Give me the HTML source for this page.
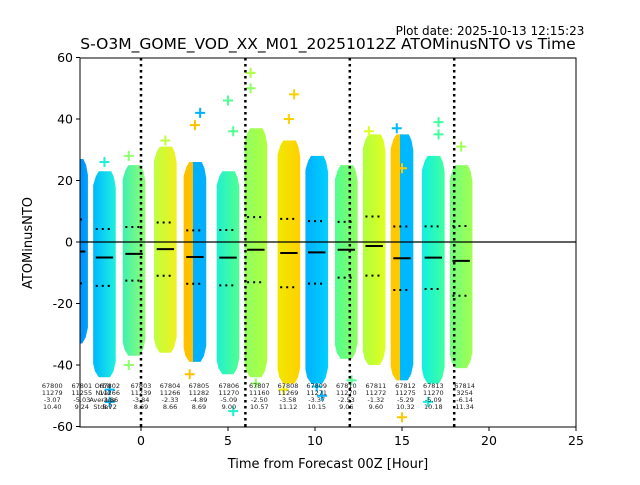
<!DOCTYPE html>
<html><head><meta charset="utf-8"><style>
body{margin:0;background:#fff;}
svg text{font-family:"DejaVu Sans","Liberation Sans",sans-serif;}
</style></head><body>
<svg id="chart" width="640" height="480" viewBox="0 0 640 480" xmlns="http://www.w3.org/2000/svg">
<text x="490" y="35" font-size="12" text-anchor="middle">Plot date: 2025-10-13 12:15:23</text>
<text x="328" y="49" font-size="15.5" text-anchor="middle">S-O3M_GOME_VOD_XX_M01_20251012Z ATOMinusNTO vs Time</text>
<defs><clipPath id="pc"><rect x="80" y="58" width="496" height="369"/></clipPath></defs>
<g id="plot" clip-path="url(#pc)"></g>
<g id="axes"></g>
<text x="328" y="468" font-size="13" text-anchor="middle">Time from Forecast 00Z [Hour]</text>
<text x="32" y="243" font-size="13" text-anchor="middle" transform="rotate(-90 32 243)">ATOMinusNTO</text>
</svg>
<script>
const colX=[-3.7,-2.1,-0.4,1.4,3.1,5.0,6.6,8.5,10.1,11.8,13.4,15.0,16.8,18.4];
const colMean=[-3.07,-5.03,-3.86,-2.33,-4.89,-5.09,-2.50,-3.58,-3.37,-2.53,-1.32,-5.29,-5.09,-6.14];
const colStd=[10.40,9.24,8.72,8.66,8.69,9.00,10.57,11.12,10.15,9.06,9.60,10.32,10.18,11.34];
const colTop=[27,23,25,31,26,23,37,33,28,25,35,35,28,25];
const colBot=[-33,-44,-37,-36,-39,-43,-44,-46,-46,-38,-40,-45,-46,-41];
const colC1=["#0070ff","#00b8ff","#40f0b0","#c0ff40","#ffc000","#20f0d0","#90ff60","#f0e800","#00b0ff","#50ff90","#b0ff40","#ffc800","#10f0e0","#70ff80"];
const colC2=["#00a0ff","#20f0e0","#90ff70","#f0f020","#00b0ff","#50ff90","#b0ff40","#ffd000","#00d0ff","#90ff60","#e0ff20","#00b8ff","#40ffa0","#a0ff50"];
const colSplit=[0,0,0,0,1,0,0,0,0,0,0,1,0,0];
const outCol=[0,1,1,2,3,4,4,5,5,6,6,7,7,8,9,11,11,12,12,13,1,2,4,5,6,7,8,10,11,12];
const outVal=[-40,26,-48,28,33,42,-43,46,-55,55,-46,48,-48,-47,-45,37,-57,39,-52,31,-52,-40,38,36,50,40,-50,36,24,35];
const dashX=[0,6,12,18];
const orbits=["67800","67801","67802","67803","67804","67805","67806","67807","67808","67809","67810","67811","67812","67813","67814"];
const labX=[-5.1,-3.4,-1.8,0,1.67,3.33,5.05,6.8,8.45,10.1,11.8,13.5,15.2,16.8,18.6];
const nval=["11279","11255","11266","11239","11266","11282","11270","11160","11269","11271","11270","11272","11275","11270","3254"];
const avg=["-3.07","-5.03","-3.86","-3.84","-2.33","-4.89","-5.09","-2.50","-3.58","-3.37","-2.53","-1.32","-5.29","-5.09","-6.14"];
const sdev=["10.40","9.24","8.72","8.69","8.66","8.69","9.00","10.57","11.12","10.15","9.06","9.60","10.32","10.18","11.34"];
const xTicks=[0,5,10,15,20,25];
const yTicks=[-60,-40,-20,0,20,40,60];
const NS="http://www.w3.org/2000/svg";
const X=v=>141+v*17.4, Y=v=>242-v*3.075;
function mk(t,a,p){const e=document.createElementNS(NS,t);for(const k in a)e.setAttribute(k,a[k]);p.appendChild(e);return e;}
const plot=document.getElementById('plot'),axes=document.getElementById('axes'),svg=document.getElementById('chart');
const defs=mk('defs',{},svg);
colX.forEach((c,i)=>{
  const g=mk('linearGradient',{id:'g'+i,x1:0,x2:1,y1:0,y2:0},defs);
  if(colSplit[i]){
    mk('stop',{offset:'0','stop-color':colC1[i]},g);mk('stop',{offset:'0.42','stop-color':colC1[i]},g);
    mk('stop',{offset:'0.42','stop-color':colC2[i]},g);mk('stop',{offset:'1','stop-color':colC2[i]},g);
  } else {mk('stop',{offset:'0','stop-color':colC1[i]},g);mk('stop',{offset:'1','stop-color':colC2[i]},g);}
  const l=X(c-0.65),r=X(c+0.65),w=r-l,t=Y(colTop[i]),b=Y(colBot[i]);
  const d=`M${l} ${t+14}L${l+w*0.12} ${t+5}L${l+w*0.25} ${t}L${r-w*0.2} ${t}L${r-w*0.08} ${t+6}L${r} ${t+16}L${r} ${b-16}L${r-w*0.1} ${b-6}L${r-w*0.25} ${b}L${l+w*0.25} ${b}L${l+w*0.08} ${b-6}L${l} ${b-14}Z`;
  const p=mk('path',{d:d,fill:'url(#g'+i+')'},plot);
  
  
});
outVal.forEach((v,k)=>{
  const i=outCol[k],cx=X(colX[i]+((k%3)-1)*0.3),cy=Y(v);
  const p=mk('path',{d:`M${cx-5} ${cy}H${cx+5}M${cx} ${cy-5}V${cy+5}`,stroke:k%2?colC2[i]:colC1[i],'stroke-width':2},plot);
  
  
});
colX.forEach((c,i)=>{
  const m=mk('line',{x1:X(c-0.5),x2:X(c+0.5),y1:Y(colMean[i]),y2:Y(colMean[i]),stroke:'#000','stroke-width':2},plot);
  
  
  [1,-1].forEach(s=>{
    const d=mk('line',{x1:X(c-0.5),x2:X(c+0.5),y1:Y(colMean[i]+s*colStd[i]),y2:Y(colMean[i]+s*colStd[i]),stroke:'#000','stroke-width':2,'stroke-dasharray':'2 4'},plot);
    
    
  });
});
const z=mk('line',{x1:80,x2:576,y1:Y(0),y2:Y(0),stroke:'#000','stroke-width':1.2},plot);


dashX.forEach(v=>{
  const l=mk('line',{x1:X(v),x2:X(v),y1:58,y2:427,stroke:'#000','stroke-width':2.5,'stroke-dasharray':'2.5 3.5'},plot);
  
  
});
const rows=[orbits,nval,avg,sdev],rowY=[388,395,402,409];
const hdr=["Orbit","Nval","Average","Stdev"];
hdr.forEach((h,r)=>{const t=mk('text',{x:X(-2.2),y:rowY[r],'font-size':6.5,'text-anchor':'middle',fill:'#222'},svg);t.textContent=h;
  
  });
labX.forEach((lx,i)=>rows.forEach((arr,r)=>{
  const t=mk('text',{x:X(lx),y:rowY[r],'font-size':6.5,'text-anchor':'middle',fill:'#222'},svg);t.textContent=arr[i];
  
  
}));
const fr=mk('rect',{x:80,y:58,width:496,height:369,fill:'none',stroke:'#000','stroke-width':1},axes);


xTicks.forEach(v=>{
  mk('line',{x1:X(v),x2:X(v),y1:427,y2:431,stroke:'#000'},axes);
  const t=mk('text',{x:X(v),y:445,'font-size':12.5,'text-anchor':'middle'},axes);t.textContent=v;
  
  
});
yTicks.forEach(v=>{
  mk('line',{x1:76,x2:80,y1:Y(v),y2:Y(v),stroke:'#000'},axes);
  const t=mk('text',{x:73,y:Y(v)+4.5,'font-size':12.5,'text-anchor':'end'},axes);t.textContent=v;
  
  
});
</script>
</body></html>
